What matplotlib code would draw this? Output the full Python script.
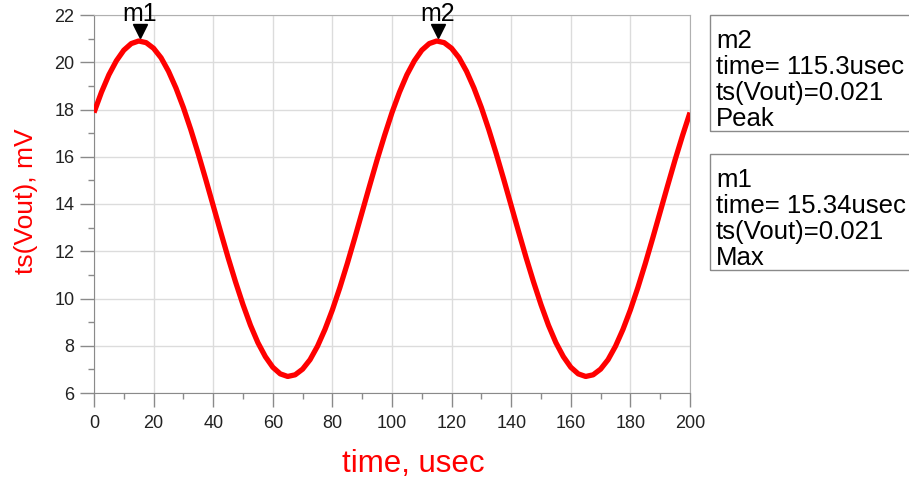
import matplotlib
matplotlib.use("Agg")
import matplotlib.pyplot as plt
from matplotlib.ticker import MultipleLocator
from matplotlib.patches import Rectangle
from matplotlib import font_manager

plt.rcParams['font.family'] = ['Liberation Sans', 'DejaVu Sans']

# Transient output voltage, sampled every 2.5 usec
time_us = [i * 2.5 for i in range(81)]
vout_mv = [
    17.87, 18.73, 19.47, 20.06, 20.51, 20.79, 20.90, 20.83, 20.59, 20.19,
    19.62, 18.91, 18.08, 17.14, 16.12, 15.04, 13.93, 12.82, 11.73, 10.70,
    9.74, 8.87, 8.13, 7.54, 7.09, 6.81, 6.70, 6.77, 7.01, 7.41,
    7.98, 8.69, 9.52, 10.46, 11.48, 12.56, 13.67, 14.78, 15.87, 16.90,
    17.87, 18.73, 19.47, 20.06, 20.51, 20.79, 20.90, 20.83, 20.59, 20.19,
    19.62, 18.91, 18.08, 17.14, 16.12, 15.04, 13.93, 12.82, 11.73, 10.70,
    9.74, 8.87, 8.13, 7.54, 7.09, 6.81, 6.70, 6.77, 7.01, 7.41,
    7.98, 8.69, 9.52, 10.46, 11.48, 12.56, 13.67, 14.78, 15.87, 16.90,
    17.87,
]

# Markers
marker_names = ["m1", "m2"]
marker_time = [15.34, 115.3]
marker_val = [20.9, 20.9]
marker_info = [
    ["m2", "time= 115.3usec", "ts(Vout)=0.021", "Peak"],
    ["m1", "time= 15.34usec", "ts(Vout)=0.021", "Max"],
]

# A narrow face for the y label if one is available
narrow = None
for f in font_manager.fontManager.ttflist:
    if ('Narrow' in f.name or 'Condensed' in f.name) and f.name.startswith('Liberation'):
        narrow = f.name
        break

fig = plt.figure(figsize=(9.09, 4.79), dpi=100)
ax = fig.add_axes([94 / 909, 1 - 393 / 479, (690 - 94) / 909, (393 - 15) / 479])

ax.plot(time_us, vout_mv, color='#ff0000', lw=3.8, solid_capstyle='butt', zorder=3)

ax.set_xlim(0, 200)
ax.set_ylim(6, 22)
ax.xaxis.set_major_locator(MultipleLocator(20))
ax.xaxis.set_minor_locator(MultipleLocator(10))
ax.yaxis.set_major_locator(MultipleLocator(2))
ax.yaxis.set_minor_locator(MultipleLocator(1))
ax.grid(True, which='major', color='#dcdcdc', lw=1.0)
ax.set_axisbelow(True)

ax.tick_params(which='major', direction='out', length=10, width=1.0, color='#8a8a8a',
               labelsize=13, labelcolor='#222222', pad=4)
ax.tick_params(axis='x', which='major', pad=6)
ax.tick_params(which='minor', direction='out', length=4.5, width=1.0, color='#8a8a8a')

for side in ['left', 'bottom']:
    ax.spines[side].set_color('#8a8a8a')
for side in ['top', 'right']:
    ax.spines[side].set_color('#b0b0b0')

ax.set_xlabel('time, usec', color='#ff0000', fontsize=22.5)
ax.xaxis.set_label_coords((413 - 94) / 596, -(472 - 393) / 378, transform=ax.transAxes)
ax.xaxis.label.set_va('baseline')
if narrow:
    ax.set_ylabel('ts(Vout), mV', color='#ff0000', fontsize=21, family=[narrow, 'Liberation Sans'])
else:
    ax.set_ylabel('ts(Vout), mV', color='#ff0000', fontsize=19)
ax.yaxis.label.set_va('center')
ax.yaxis.set_label_coords(-(94 - 26) / 596, (393 - 201) / 378, transform=ax.transAxes)

# Marker arrows and labels
for name, t, v in zip(marker_names, marker_time, marker_val):
    ax.plot([t], [v + 0.42], marker='v', color='black', ms=10, zorder=5, clip_on=False)
    ax.text(t, v + 0.62, name, ha='center', va='bottom', fontsize=18, color='black',
            zorder=6, clip_on=False)

# Marker readout boxes
box_tops = [15, 154]
box_h = 116
for top, lines in zip(box_tops, marker_info):
    fig.patches.append(Rectangle((710 / 909, 1 - (top + box_h) / 479), 230 / 909, box_h / 479,
                                 transform=fig.transFigure, fill=False,
                                 edgecolor='#8a8a8a', lw=1.0))
    fig.text(716 / 909, 1 - (top + 14) / 479, "\n".join(lines), ha='left', va='top',
             fontsize=18.5, linespacing=1.1, color='black')

fig.savefig('out.png', dpi=100)
